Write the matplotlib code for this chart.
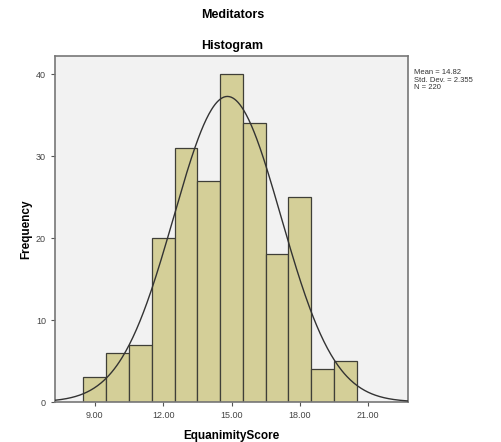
import numpy as np
import matplotlib
matplotlib.use("Agg")
import matplotlib.pyplot as plt

bin_centers = [9, 10, 11, 12, 13, 14, 15, 16, 17, 18, 19, 20]
counts = [3, 6, 7, 20, 31, 27, 40, 34, 18, 25, 4, 5]
mean, sd, n = 14.82, 2.355, 220
xticks = [9, 12, 15, 18, 21]
yticks = [0, 10, 20, 30, 40]

plt.rcParams['font.family'] = ['Liberation Sans', 'DejaVu Sans']

fig = plt.figure(figsize=(5.02, 4.42), dpi=100)
ax = fig.add_axes([55/502, 1-402/442, (408-55)/502, (402-56)/442])
ax.set_facecolor('#f2f2f2')

ax.bar(bin_centers, counts, width=1.0, color='#d4cf98', edgecolor='#3f3f38', linewidth=0.9, zorder=2)

xlim = (7.25, 22.75)
xs = np.linspace(xlim[0], xlim[1], 400)
ys = n * 1.0 / (sd * np.sqrt(2*np.pi)) * np.exp(-0.5*((xs-mean)/sd)**2)
ax.plot(xs, ys, color='#333333', linewidth=1.0, zorder=3)

ax.set_xlim(*xlim)
ax.set_ylim(0, 42.2)
ax.set_xticks(xticks)
ax.set_xticklabels([f"{t:.2f}" for t in xticks])
ax.set_yticks(yticks)
ax.tick_params(axis='both', labelsize=6.5, labelcolor='#444444', color='#555555', length=3, width=0.8, direction='out')
for s in ax.spines.values():
    s.set_color('#777777')
    s.set_linewidth(1.2)

ax.set_xlabel('EquanimityScore', fontsize=8.5, fontweight='bold', labelpad=7)
ax.set_ylabel('Frequency', fontsize=8.5, fontweight='bold', labelpad=3)

fig.text(0.463, 1-15/442, 'Meditators', ha='center', va='center', fontsize=9, fontweight='bold')
fig.text(0.463, 1-46/442, 'Histogram', ha='center', va='center', fontsize=9, fontweight='bold')
fig.text(414/502, 1-80/442, f'Mean = {mean}\nStd. Dev. = {sd}\nN = {n}', ha='left', va='center',
         fontsize=5.5, color='#333333', linespacing=1.05)

fig.savefig('out.png', dpi=100, facecolor='white')
